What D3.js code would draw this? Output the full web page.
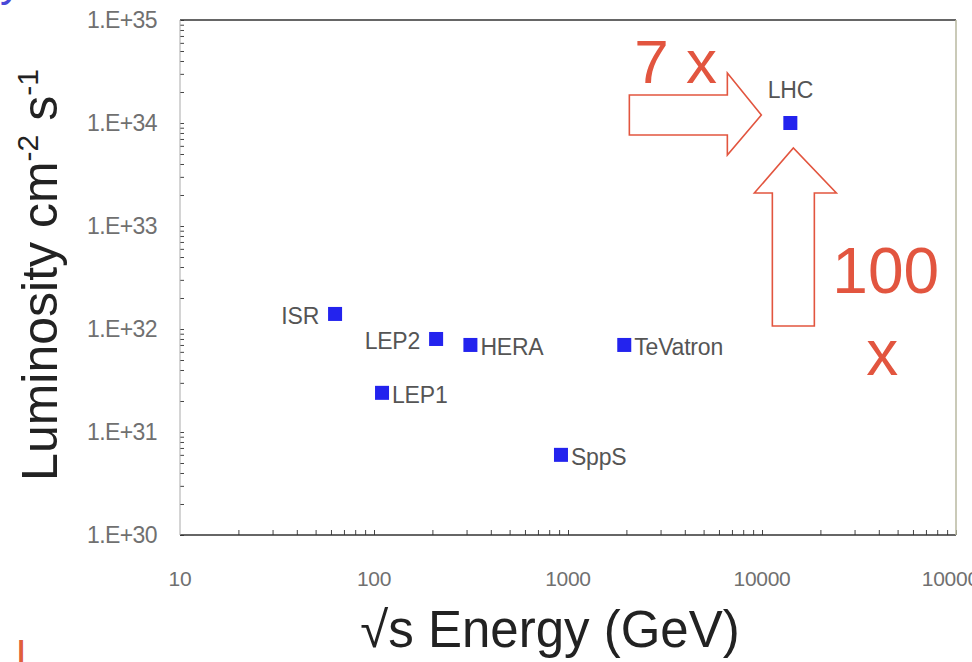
<!DOCTYPE html>
<html>
<head>
<meta charset="utf-8">
<script src="https://cdn.jsdelivr.net/npm/d3@7"></script>
<style>
  body { margin: 0; background: #fff; }
  svg { display: block; font-family: "Liberation Sans", Arial, sans-serif; }
  .tick text { fill: #707070; }
</style>
</head>
<body>
<svg width="972" height="662"></svg>
<script>
// colliders: sqrt(s) in GeV and peak luminosity in cm^-2 s^-1
const machines   = ['ISR', 'LEP2', 'HERA', 'LEP1', 'SppS', 'TeVatron', 'LHC'];
const energy     = [63, 209, 314, 110, 920, 1950, 14000];
const luminosity = [1.4e32, 8e31, 7e31, 2.4e31, 6e30, 7e31, 1e34];
const labelSide  = ['left', 'left', 'right', 'right', 'right', 'right', 'top'];

const xTickLabels = [10, 100, 1000, 10000, 100000];
const yTickLabels = [1e30, 1e31, 1e32, 1e33, 1e34, 1e35];

const svg = d3.select('svg');

const x = d3.scaleLog().domain([10, 100000]).range([180, 956]);
const y = d3.scaleLog().domain([1e30, 1e35]).range([535, 20]);

// minor ticks 1..9 per decade
const minor = (lo, hi) => {
  let out = [];
  for (let e = lo; e < hi; e++) for (let m = 1; m < 10; m++) out.push(m * Math.pow(10, e));
  out.push(Math.pow(10, hi));
  return out;
};

const xAxis = d3.axisBottom(x)
  .tickValues(minor(1, 5).filter(v => v > 10))
  .tickSizeInner(-5).tickSizeOuter(0).tickPadding(0)
  .tickFormat(() => '');

const yAxis = d3.axisLeft(y)
  .tickValues(minor(30, 35))
  .tickSizeInner(-4).tickSizeOuter(0).tickPadding(23)
  .tickFormat(d => yTickLabels.includes(d) ? '1.E+' + Math.round(Math.log10(d)) : '');

svg.append('g').attr('transform', 'translate(0,535)').call(xAxis)
  .call(g => g.select('.domain').remove())
  .call(g => g.selectAll('.tick line').attr('stroke', '#444'));

svg.append('g').attr('transform', 'translate(180,0)').call(yAxis)
  .call(g => g.select('.domain').remove())
  .call(g => g.selectAll('.tick line').attr('stroke', '#444'))
  .call(g => g.selectAll('.tick text').style('font-size', '23px').attr('letter-spacing', '-0.6'));

// x tick labels
svg.append('g').selectAll('text')
  .data(xTickLabels)
  .enter()
  .append('text')
  .attr('x', d => x(d))
  .attr('y', 586)
  .attr('text-anchor', 'middle')
  .attr('fill', '#707070')
  .style('font-size', '21px')
  .attr('letter-spacing', '-0.3')
  .text(d => d);

// frame
svg.append('line').attr('x1', 180).attr('x2', 956).attr('y1', 20).attr('y2', 20).attr('stroke', '#333').attr('stroke-width', 1.5);
svg.append('line').attr('x1', 180).attr('x2', 956).attr('y1', 535).attr('y2', 535).attr('stroke', '#333').attr('stroke-width', 1.5);
svg.append('line').attr('x1', 180).attr('x2', 180).attr('y1', 20).attr('y2', 535).attr('stroke', '#aaa');
svg.append('line').attr('x1', 956).attr('x2', 956).attr('y1', 20).attr('y2', 535).attr('stroke', '#b8b8a0').attr('stroke-width', 1.5);

// points
const pts = machines.map((m, i) => ({name: m, e: energy[i], l: luminosity[i], side: labelSide[i]}));
const s = 14;

svg.selectAll('.pt')
  .data(pts)
  .enter()
  .append('rect')
  .classed('pt', true)
  .attr('x', d => x(d.e) - s / 2)
  .attr('y', d => y(d.l) - s / 2)
  .attr('width', s)
  .attr('height', s)
  .attr('fill', '#2323ee');

svg.selectAll('.lbl')
  .data(pts)
  .enter()
  .append('text')
  .classed('lbl', true)
  .attr('x', d => d.side == 'left' ? x(d.e) - 16 : d.side == 'right' ? x(d.e) + 10 : x(d.e))
  .attr('y', d => d.side == 'top' ? y(d.l) - 25 : y(d.l) + 10)
  .attr('text-anchor', d => d.side == 'left' ? 'end' : d.side == 'right' ? 'start' : 'middle')
  .attr('fill', '#555')
  .style('font-size', '23px')
  .attr('letter-spacing', '-0.2')
  .text(d => d.name);

// axis titles
svg.append('text')
  .attr('transform', 'translate(57,' + 275 + ') rotate(-90)')
  .attr('text-anchor', 'middle')
  .attr('fill', '#222')
  .style('font-size', '50px')
  .html('Luminosity cm<tspan dy="-19" font-size="30">-2</tspan><tspan dy="19"> s</tspan><tspan dy="-19" font-size="30">-1</tspan>');

svg.append('text')
  .attr('x', 550)
  .attr('y', 647)
  .attr('text-anchor', 'middle')
  .attr('fill', '#222')
  .style('font-size', '51px')
  .text('\u221As Energy (GeV)');

// annotation arrows around LHC
const lhc = pts[pts.length - 1];
const px = x(lhc.e), py = y(lhc.l);
const red = '#e2553f';

const hArrow = [[-161, -28], [-63, -28], [-63, -50], [-29, -8], [-63, 32], [-63, 12], [-161, 12]];
const vArrow = [[-18, 203], [-18, 70], [-36, 70], [3, 25], [46, 70], [24, 70], [24, 203]];

[hArrow, vArrow].forEach(a => {
  svg.append('path')
    .attr('d', d3.line()(a.map(p => [px + p[0], py + p[1]])) + 'Z')
    .attr('fill', 'none')
    .attr('stroke', red)
    .attr('stroke-width', 1.6);
});

svg.append('text').attr('x', px - 156).attr('y', py - 40).attr('fill', red).style('font-size', '62px').text('7 x');
svg.append('text').attr('x', px + 42).attr('y', py + 170).attr('fill', red).style('font-size', '64px').text('100');
svg.append('text').attr('x', px + 76).attr('y', py + 252).attr('fill', red).style('font-size', '64px').text('x');

// slide fragments at the edges
svg.append('text').attr('x', 0).attr('y', -4).attr('fill', '#4848d8').style('font-size', '44px').text('y');
svg.append('text').attr('x', 16).attr('y', 668).attr('fill', '#e0603a').style('font-size', '40px').text('L');
</script>
</body>
</html>
